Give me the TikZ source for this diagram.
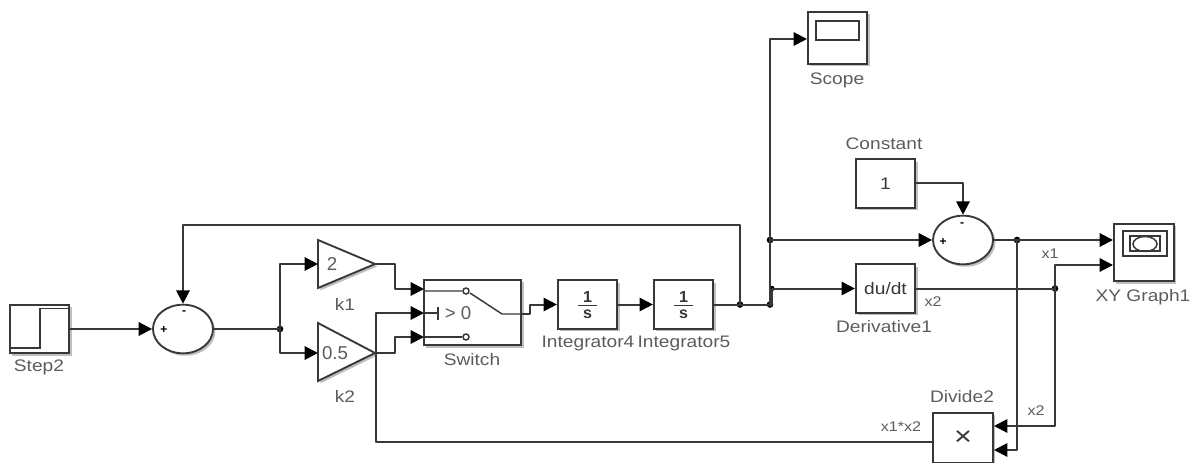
\documentclass[tikz,border=0pt]{standalone}
\usepackage{fontspec}
\setmainfont{Liberation Sans}
\newfontfamily\capfont[FakeStretch=1.15]{Liberation Sans}
\usetikzlibrary{arrows.meta,shapes.geometric,shadows}
\definecolor{wire}{gray}{0.22}
\definecolor{lab}{gray}{0.36}
\tikzset{
  x=0.75pt,y=-0.75pt,
  wireline/.style={draw=wire,line width=1.5pt,line join=round},
  flow/.style={wireline,-{Triangle[length=10pt,width=10pt,color=black]}},
  soft/.style={drop shadow={shadow xshift=1.8pt,shadow yshift=-1.8pt,opacity=.25,fill=black}},
  blockbox/.style={draw=wire,line width=1.4pt,fill=white,soft,inner sep=0pt,minimum width=44.5pt,minimum height=36.5pt,text=wire,font=\capfont\fontsize{12.5}{13}\selectfont},
  sumnode/.style={ellipse,draw=wire,line width=1.4pt,fill=white,soft,inner sep=0pt,minimum width=45pt,minimum height=36.5pt},
  captxt/.style={text=lab,font=\capfont\fontsize{12.5}{13}\selectfont,inner sep=0pt},
  smalltxt/.style={text=lab,font=\capfont\fontsize{10.5}{11}\selectfont,inner sep=0pt},
  signtxt/.style={text=black,font=\fontsize{9}{9}\selectfont\bfseries,inner sep=0pt},
  dotj/.style={circle,fill=black,inner sep=0pt,minimum size=5pt},
  gainval/.style={text=lab,font=\fontsize{14}{15}\selectfont,inner sep=0pt},
  fractxt/.style={text=wire,font=\fontsize{12}{13}\selectfont\bfseries,inner sep=0pt},
}
\begin{document}
\begin{tikzpicture}
\useasboundingbox (0,0) rectangle (1191,463);
% blocks
\node[blockbox,minimum width=44.5pt] (step) at (39.5,329) {};
\node[sumnode] (sumA) at (183,329) {};
\node[blockbox,minimum width=73pt,minimum height=49pt] (switch) at (472.5,312.5) {};
\node[blockbox] (intA) at (587.5,304.5) {};
\node[blockbox] (intB) at (683.5,304.5) {};
\node[blockbox,minimum height=39pt] (scope) at (837.5,38) {};
\node[blockbox] (const) at (885.5,183.5) {1};
\node[sumnode] (sumB) at (963,240) {};
\node[blockbox] (deriv) at (885.5,288.5) {du/dt};
\node[blockbox,minimum width=45pt,minimum height=43pt,line width=1.9pt] (xy) at (1144,252.5) {};
\node[blockbox,minimum width=45pt,minimum height=37.5pt] (div) at (963,438) {\fontsize{20}{20}\selectfont ×};
% gain triangles
\coordinate (kAtl) at (318,240); \coordinate (kAbl) at (318,288); \coordinate (kAo) at (375,264);
\coordinate (kBtl) at (318,323); \coordinate (kBbl) at (318,381); \coordinate (kBo) at (375,353);
\coordinate (kAi) at (318,264); \coordinate (kBi) at (318,353);
\draw[draw=wire,line width=1.4pt,line join=miter,fill=white,soft] (kAtl) -- (kAo) -- (kAbl) -- cycle;
\draw[draw=wire,line width=1.4pt,line join=miter,fill=white,soft] (kBtl) -- (kBo) -- (kBbl) -- cycle;
% block internals
\draw[draw=wire,line width=1.2pt] (11,348) -- (40,348) -- (40,308.5) -- (68,308.5);
\draw[draw=wire,line width=1.4pt] (816,21) rectangle (859,40);
\draw[draw=wire,line width=1.2pt] (1123,231) rectangle (1167,256);
\draw[draw=wire,line width=1.2pt] (1130,236) rectangle (1160,251);
\draw[draw=wire,line width=1.1pt] (1145,244) ellipse [x radius=12,y radius=7.5];
\draw[draw=wire,line width=1.1pt] (425,291) -- (462,291) (470,293) -- (502,314) -- (521,314);
\draw[draw=wire,line width=1.1pt] (466,291) circle [radius=3];
\draw[draw=wire,line width=1.1pt] (425,337) -- (462,337);
\draw[draw=wire,line width=1.1pt] (466,337) circle [radius=3];
\draw[draw=wire,line width=1.1pt] (425,313) -- (438,313) (438,307) -- (438,320);
\node[gainval] (swtxt) at (458,313) {> 0};
\node[fractxt] (intAn) at (587.5,297) {1};
\node[fractxt] (intAd) at (587.5,314) {s};
\draw[draw=wire,line width=1pt] (578,305.5) -- (597,305.5);
\node[fractxt] (intBn) at (683.5,297) {1};
\node[fractxt] (intBd) at (683.5,314) {s};
\draw[draw=wire,line width=1pt] (674,305.5) -- (693,305.5);
\node[gainval] (kAv) at (332,264) {2};
\node[gainval] (kBv) at (335,353) {0.5};
\node[signtxt] (sA1) at (164,330) {+};
\node[signtxt] (sA2) at (184,313) {-};
\node[signtxt] (sB1) at (943,242) {+};
\node[signtxt] (sB2) at (962,225) {-};
% junctions
\node[dotj] (jA) at (280,329) {};
\node[dotj] (jB) at (740,304.5) {};
\node[dotj] (jC) at (770,304.5) {};
\node[dotj] (jD) at (770,240) {};
\node[dotj,minimum size=4pt] (jE) at (772,288.5) {};
\node[dotj] (jF) at (1017,240) {};
\node[dotj] (jG) at (1055,288.5) {};
% port coordinates
\coordinate (swIa) at (424,289);
\coordinate (swIb) at (424,313);
\coordinate (swIc) at (424,337);
\coordinate (swO) at (521,314);
\coordinate (xyIa) at (1113,240);
\coordinate (xyIb) at (1113,265);
\coordinate (divIa) at (994,426);
\coordinate (divIb) at (994,450);
\coordinate (divO) at (933,442);
\coordinate (scopeI) at (807,39);
% connectors
\draw[flow] (step.east) -- (sumA.west);
\draw[wireline] (sumA.east) -- (jA.center);
\draw[flow] (jA.center) |- (kAi);
\draw[flow] (jA.center) |- (kBi);
\draw[flow] (kAo) -- (395,264) -- (395,289) -- (swIa);
\draw[flow] (kBo) -- (395,353) -- (395,337) -- (swIc);
\draw[flow] (divO) -- (376,442) -- (376,313) -- (swIb);
\draw[flow] (swO) -- (530,314) -- (530,304.5) -- (intA.west);
\draw[flow] (intA.east) -- (intB.west);
\draw[wireline] (intB.east) -- (jC.center);
\draw[flow] (jB.center) -- (740,225) -- (183,225) -- (sumA.north);
\draw[flow] (jC.center) -- (770,39) -- (scopeI);
\draw[flow] (jD.center) -- (sumB.west);
\draw[flow] (jE.center) -- (deriv.west);
\draw[wireline] (jC.center) -- (772,304.5) -- (jE.center);
\draw[flow] (const.east) -- (963,183.5) -- (sumB.north);
\draw[flow] (sumB.east) -- (xyIa);
\draw[wireline] (deriv.east) -- (jG.center);
\draw[flow] (jG.center) |- (xyIb);
\draw[flow] (jG.center) |- (divIa);
\draw[flow] (jF.center) |- (divIb);
% captions
\node[captxt] (cStep) at (39,367) {Step2};
\node[captxt] (cKa) at (345,304) {k1};
\node[captxt] (cKb) at (345,396) {k2};
\node[captxt] (cSw) at (472,360) {Switch};
\node[captxt] (cIa) at (588,343) {Integrator4};
\node[captxt] (cIb) at (684,343) {Integrator5};
\node[captxt] (cSc) at (837,80) {Scope};
\node[captxt] (cCo) at (884,144) {Constant};
\node[captxt] (cDe) at (884,327) {Derivative1};
\node[captxt] (cXy) at (1143,297) {XY Graph1};
\node[captxt] (cDi) at (962,397) {Divide2};
\node[smalltxt] (lA) at (1050,254) {x1};
\node[smalltxt] (lB) at (933,302) {x2};
\node[smalltxt] (lC) at (1036,411) {x2};
\node[smalltxt] (lD) at (901,427) {x1*x2};
\end{tikzpicture}
\end{document}
